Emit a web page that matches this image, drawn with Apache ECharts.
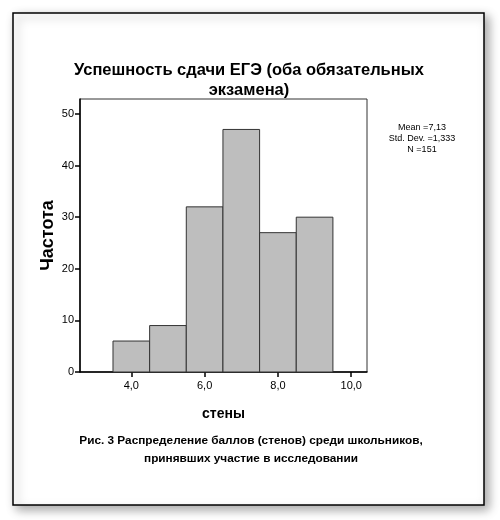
<!DOCTYPE html>
<html>
<head>
<meta charset="utf-8">
<script src="https://cdn.jsdelivr.net/npm/echarts@6/dist/echarts.min.js"></script>
<style>
  body { margin: 0; background: #fff; }
  #chart { width: 500px; height: 520px; }
</style>
</head>
<body>
<div id="chart"></div>
<script>
// histogram bins (стены) and counts
const binStarts = [3.5, 4.5, 5.5, 6.5, 7.5, 8.5]
const binEnds = [4.5, 5.5, 6.5, 7.5, 8.5, 9.5]
const counts = [6, 9, 32, 47, 27, 30]
const xTicks = [4, 6, 8, 10]
const yTicks = [0, 10, 20, 30, 40, 50]
const statsLines = ['Mean =7,13', 'Std. Dev. =1,333', 'N =151']

const fontFam = 'Liberation Sans, Arial, sans-serif'
const chart = echarts.init(document.getElementById('chart'))

const bins = counts.map((c, i) => [binStarts[i], binEnds[i], c])

const option = {
  backgroundColor: '#fff',
  animation: false,
  title: {
    text: 'Успешность сдачи ЕГЭ (оба обязательных\nэкзамена)',
    left: 244, top: 55, textAlign: 'center',
    textStyle: { fontFamily: fontFam, fontSize: 16.5, fontWeight: 'bold', color: '#000', lineHeight: 20 }
  },
  grid: {
    left: 80, top: 99, width: 287, height: 273,
    show: true, borderColor: '#333', borderWidth: 1, backgroundColor: '#fff'
  },
  xAxis: {
    type: 'value', min: 2.6, max: 10.43,
    name: 'стены', nameLocation: 'middle', nameGap: 35,
    nameTextStyle: { fontFamily: fontFam, fontSize: 14, fontWeight: 'bold', color: '#000' },
    splitLine: { show: false },
    axisLine: { show: true, lineStyle: { color: '#000', width: 1.5 } },
    axisTick: { show: true, length: 5, customValues: xTicks, lineStyle: { color: '#000', width: 1.5 } },
    axisLabel: {
      customValues: xTicks, margin: 8,
      fontFamily: fontFam, fontSize: 11, color: '#000',
      formatter: v => v.toFixed(1).replace('.', ',')
    }
  },
  yAxis: {
    type: 'value', min: 0, max: 52.9,
    name: 'Частота', nameLocation: 'middle', nameGap: 23, nameMoveOverlap: false,
    nameTextStyle: { fontFamily: fontFam, fontSize: 18, fontWeight: 'bold', color: '#000' },
    splitLine: { show: false },
    axisLine: { show: true, lineStyle: { color: '#000', width: 1.5 } },
    axisTick: { show: true, length: 5, customValues: yTicks, lineStyle: { color: '#000', width: 1.5 } },
    axisLabel: {
      customValues: yTicks, margin: 6,
      fontFamily: fontFam, fontSize: 11, color: '#000'
    }
  },
  series: [{
    type: 'custom',
    data: bins,
    renderItem: (params, api) => {
      const p0 = api.coord([api.value(0), api.value(2)])
      const p1 = api.coord([api.value(1), 0])
      return {
        type: 'rect',
        shape: { x: p0[0], y: p0[1], width: p1[0] - p0[0], height: p1[1] - p0[1] },
        style: { fill: '#bebebe', stroke: '#333', lineWidth: 1 }
      }
    }
  }],
  graphic: [
    {
      type: 'rect', z: -10,
      shape: { x: 13, y: 13, width: 471, height: 492 },
      style: { fill: '#fff', stroke: '#000', lineWidth: 1.5, shadowBlur: 10, shadowColor: 'rgba(0,0,0,0.35)', shadowOffsetX: 4, shadowOffsetY: 4 }
    },
    {
      type: 'text', x: 422, y: 122,
      style: {
        text: statsLines.join('\n'), align: 'center', verticalAlign: 'top',
        font: '9px ' + fontFam, fill: '#000', lineHeight: 11
      }
    },
    {
      type: 'text', x: 251, y: 432,
      style: {
        text: 'Рис. 3 Распределение баллов (стенов) среди школьников,\nпринявших участие в исследовании',
        align: 'center', verticalAlign: 'top', font: 'bold 11.8px ' + fontFam, fill: '#000', lineHeight: 18
      }
    }
  ]
}

chart.setOption(option)
</script>
</body>
</html>
